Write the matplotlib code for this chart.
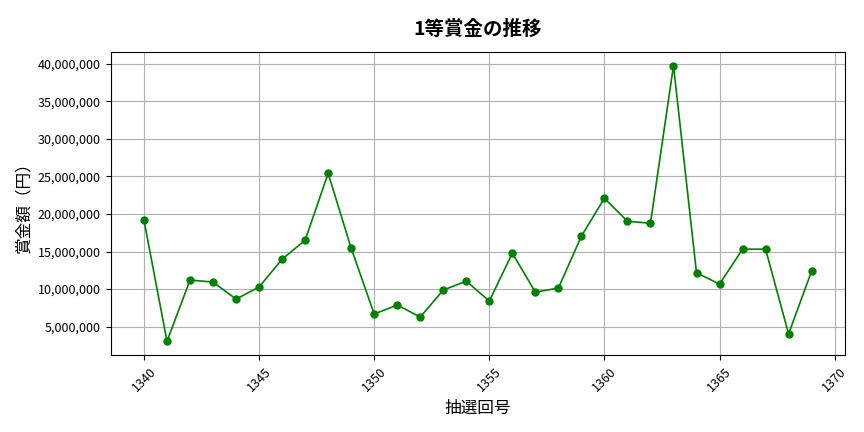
import matplotlib
matplotlib.use("Agg")
import matplotlib.pyplot as plt
from matplotlib.ticker import FuncFormatter

plt.rcParams['font.family'] = ['Noto Sans CJK JP', 'DejaVu Sans']

draws = list(range(1340, 1370))
prizes = [19160000, 3050000, 11200000, 10930000, 8670000, 10270000, 13980000,
          16500000, 25400000, 15440000, 6680000, 7880000, 6280000, 9870000,
          11060000, 8400000, 14780000, 9600000, 10130000, 17040000, 22080000,
          19030000, 18760000, 39730000, 12170000, 10660000, 15310000, 15310000,
          4030000, 12400000]

fig, ax = plt.subplots(figsize=(8.64, 4.32), dpi=100)
ax.plot(draws, prizes, color='green', marker='o', markersize=5, linewidth=1.2)
ax.set_title('1等賞金の推移', fontsize=14, fontweight='bold', pad=12)
ax.set_xlabel('抽選回号', fontsize=12)
ax.set_ylabel('賞金額（円）', fontsize=12)
ax.yaxis.set_major_formatter(FuncFormatter(lambda v, p: f'{int(v):,}'))
ax.tick_params(axis='x', labelrotation=45, labelsize=9)
ax.tick_params(axis='y', labelsize=9)
ax.grid(True, color='#b0b0b0', linewidth=0.8)
fig.subplots_adjust(left=0.128, right=0.978, top=0.88, bottom=0.178)
fig.savefig('out.png', dpi=100)
